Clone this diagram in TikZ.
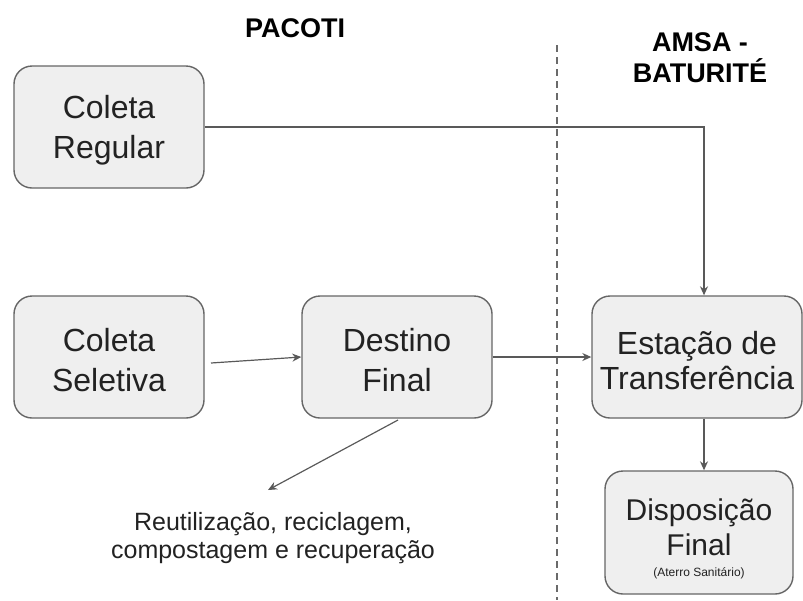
\documentclass[tikz,border=0pt]{standalone}
\usepackage{fontspec}
\setmainfont{Liberation Sans}
\usetikzlibrary{arrows.meta}
\definecolor{boxfill}{HTML}{EFEFEF}
\definecolor{boxline}{HTML}{666666}
\definecolor{arrowc}{HTML}{595959}
\definecolor{dashc}{HTML}{6A6A6A}
\definecolor{txt}{HTML}{222222}
\newcommand\lowstrut{\rule{0pt}{30pt}}
\tikzset{
  box/.style={draw=boxline, line width=1.4pt, fill=boxfill, rounded corners=18pt,
    minimum width=190pt, minimum height=122pt, align=center, text=txt,
    font=\fontsize{32}{40}\selectfont, inner sep=0pt},
  conn/.style={draw=arrowc, line width=1.2pt, -{Stealth[length=9pt,width=8pt]}},
  title/.style={font=\bfseries\fontsize{27}{31}\selectfont, align=center, text=black},
}
\begin{document}
\begin{tikzpicture}[x=1pt,y=-1pt]
\useasboundingbox (0,0) rectangle (803,600);
\draw[dashc, line width=1.1pt, dash pattern=on 7pt off 5pt] (557,45) -- (557,600);
\node[title] (pac) at (295,28) {PACOTI};
\node[title] (amsa) at (700,57.5) {AMSA -\\BATURITÉ};
\node[box] (cr) at (109,127) {\lowstrut Coleta\\Regular};
\node[box] (cs) at (109,357) {\lowstrut Coleta\\Seletiva};
\node[box] (df) at (397,357) {\lowstrut Destino\\Final};
\node[box, minimum width=210pt, font=\fontsize{32}{35}\selectfont] (et) at (697,357) {\lowstrut Estação de\\Transferência};
\node[box, minimum width=188pt, minimum height=123pt] (dp) at (699,532.5) {};
\node[align=center, text=txt, font=\fontsize{30}{35}\selectfont] (dptext) at (699,527) {Disposição\\Final};
\node[text=txt, font=\fontsize{12}{14}\selectfont] (dpnote) at (699,573) {(Aterro Sanitário)};
\node[align=center, text=txt, font=\fontsize{25}{28}\selectfont] (reut) at (273,538) {Reutilização, reciclagem,\\compostagem e recuperação};
\coordinate (turn) at (704,127);
\coordinate (cs1) at (211,363);
\coordinate (dfs) at (398,420);
\coordinate (rend) at (268,490);
\draw[conn] (cr.east) -- (turn) -- (turn |- et.north);
\draw[conn] (cs1) -- (df.west);
\draw[conn] (df.east) -- (et.west);
\draw[conn] (dfs) -- (rend);
\draw[conn] (et.south -| turn) -- (dp.north -| turn);
\end{tikzpicture}
\end{document}
